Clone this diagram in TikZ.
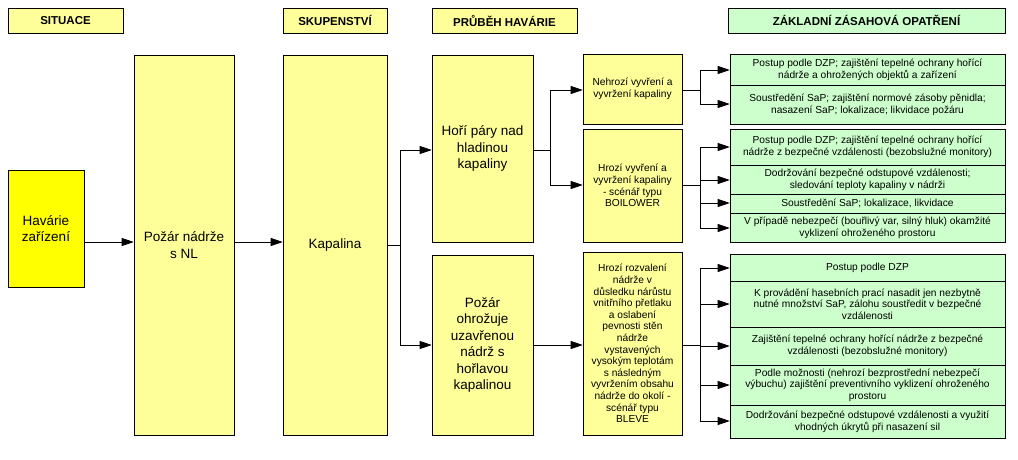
\documentclass[tikz,border=0pt]{standalone}
\usepackage{fontspec}
\setmainfont{Liberation Sans}
\usetikzlibrary{arrows.meta}
\definecolor{pale}{HTML}{FFFF99}
\definecolor{strong}{HTML}{FFFF00}
\definecolor{grn}{HTML}{CCFFCC}
\tikzset{
 base/.style={draw=black, line width=0.6pt, inner sep=1pt, align=center, font=\fontsize{10.2}{11.6}\selectfont},
 ybox/.style={base, fill=pale},
 sbox/.style={base, fill=strong},
 gbox/.style={base, fill=grn},
 hdr/.style={base, font=\fontsize{11.5}{13}\selectfont\bfseries},
 big/.style={font=\fontsize{13.5}{16.5}\selectfont},
 con/.style={line width=0.6pt},
 arr/.style={line width=0.6pt, -{Triangle[length=12pt,width=8pt]}}
}
\newcommand\bx[7]{\node[#6, minimum width={(#4-#2)*1pt}, minimum height={(#5-#3)*1pt}] (#1) at ({(#2+#4)/2},{(#3+#5)/2}) {#7};}
\begin{document}
\begin{tikzpicture}[x=1pt,y=-1pt]
\useasboundingbox (0,0) rectangle (1018,459);
% headers
\bx{h1}{8}{8}{123}{33}{hdr,fill=pale}{SITUACE}
\bx{h2}{283}{8}{387}{33}{hdr,fill=pale}{SKUPENSTVÍ}
\bx{h3}{432}{8}{577}{33}{hdr,fill=pale}{PRŮBĚH HAVÁRIE}
\bx{h4}{728}{8}{1005}{33}{hdr,fill=grn}{ZÁKLADNÍ ZÁSAHOVÁ OPATŘENÍ}
% main
\bx{hav}{8}{170}{84}{287}{sbox,big}{Havárie\\zařízení}
\bx{poz}{134}{55}{234}{435}{ybox,big}{Požár nádrže\\s NL}
\bx{kap}{283}{55}{387}{435}{ybox,big}{Kapalina}
\bx{hor}{432}{55}{533}{242}{ybox,big}{Hoří páry nad\\hladinou\\kapaliny}
\bx{pzo}{432}{255}{533}{435}{ybox,big}{Požár\\ohrožuje\\uzavřenou\\nádrž s\\hořlavou\\kapalinou}
\bx{neh}{583}{54}{682}{124}{ybox}{Nehrozí vyvření a\\vyvržení kapaliny}
\bx{hrv}{583}{129}{682}{242}{ybox}{Hrozí vyvření a\\vyvržení kapaliny\\- scénář typu\\BOILOWER}
\bx{hrr}{583}{252}{682}{435}{ybox}{Hrozí rozvalení\\nádrže v\\důsledku nárůstu\\vnitřního přetlaku\\a oslabení\\pevnosti stěn\\nádrže\\vystavených\\vysokým teplotám\\s následným\\vyvržením obsahu\\nádrže do okolí -\\scénář typu\\BLEVE}
% green
\bx{a1}{730}{54}{1005}{85}{gbox}{Postup podle DZP; zajištění tepelné ochrany hořící\\nádrže a ohrožených objektů a zařízení}
\bx{a2}{730}{85}{1005}{124}{gbox}{Soustředění SaP; zajištění normové zásoby pěnidla;\\nasazení SaP;  lokalizace; likvidace požáru}
\bx{b1}{730}{129}{1005}{165}{gbox}{Postup podle DZP; zajištění tepelné ochrany hořící\\nádrže z bezpečné vzdálenosti (bezobslužné monitory)}
\bx{b2}{730}{165}{1005}{194}{gbox}{Dodržování bezpečné odstupové vzdálenosti;\\sledování teploty kapaliny v nádrži}
\bx{b3}{730}{194}{1005}{213}{gbox}{Soustředění SaP; lokalizace, likvidace}
\bx{b4}{730}{213}{1005}{242}{gbox}{V případě nebezpečí  (bouřlivý var, silný hluk) okamžité\\vyklizení ohroženého prostoru}
\bx{c1}{730}{254}{1005}{281}{gbox}{Postup podle DZP}
\bx{c2}{730}{281}{1005}{327}{gbox}{K provádění hasebních prací nasadit jen nezbytně\\nutné množství SaP, zálohu soustředit v bezpečné\\vzdálenosti}
\bx{c3}{730}{327}{1005}{365}{gbox}{Zajištění tepelné ochrany hořící nádrže z bezpečné\\vzdálenosti (bezobslužné monitory)}
\bx{c4}{730}{365}{1005}{405}{gbox}{Podle možnosti (nehrozí bezprostřední nebezpečí\\výbuchu) zajištění preventivního vyklizení ohroženého\\prostoru}
\bx{c5}{730}{405}{1005}{438}{gbox}{Dodržování bezpečné odstupové vzdálenosti a využití\\vhodných úkrytů při nasazení sil}
% connectors
\draw[arr] (hav.east|-0,242) -- (poz.west|-0,242);
\draw[arr] (poz.east|-0,242) -- (kap.west|-0,242);
\coordinate (k1) at (400,245);
\draw[con] (kap.east|-k1) -- (k1);
\draw[arr] (k1) |- (hor.west|-0,150);
\draw[arr] (k1) |- (pzo.west|-0,345);
\coordinate (p1) at (550,150);
\draw[con] (hor.east|-p1) -- (p1);
\draw[arr] (p1) |- (neh.west|-0,90);
\draw[arr] (p1) |- (hrv.west|-0,185);
\draw[arr] (pzo.east|-0,345) -- (hrr.west|-0,345);
\coordinate (q1) at (700,90);
\draw[con] (neh.east|-q1) -- (q1);
\draw[arr] (q1) |- (a1.west|-0,70);
\draw[arr] (q1) |- (a2.west|-0,104);
\coordinate (q2) at (700,185);
\draw[con] (hrv.east|-q2) -- (q2);
\foreach \n/\y in {b1/147,b2/180,b3/203,b4/228} \draw[arr] (q2) |- (\n.west|-0,\y);
\coordinate (q3) at (700,345);
\draw[con] (hrr.east|-q3) -- (q3);
\foreach \n/\y in {c1/268,c2/304,c3/346,c4/385,c5/421} \draw[arr] (q3) |- (\n.west|-0,\y);
\end{tikzpicture}
\end{document}
